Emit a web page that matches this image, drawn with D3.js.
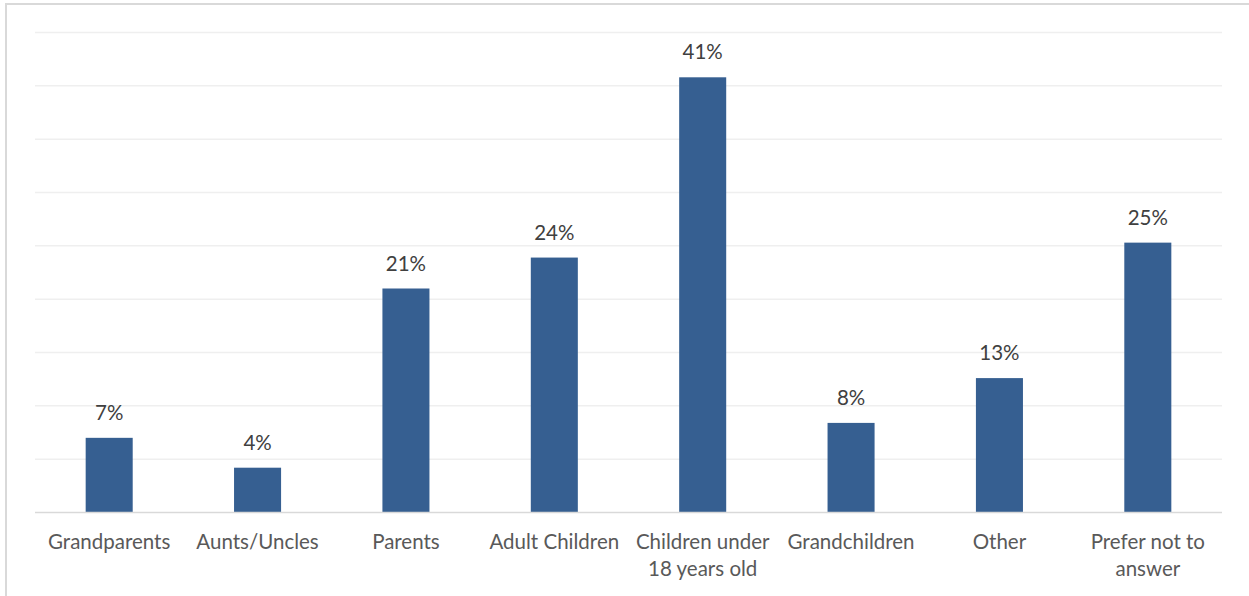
<!DOCTYPE html>
<html>
<head>
<meta charset="utf-8">
<script src="https://cdn.jsdelivr.net/npm/d3@7"></script>
<style>
  html, body { margin: 0; padding: 0; background: #fff; }
  svg { display: block; }
</style>
</head>
<body>
<svg id="chart" width="1249" height="596"></svg>
<script>
const categories = ["Grandparents", "Aunts/Uncles", "Parents", "Adult Children", "Children under 18 years old", "Grandchildren", "Other", "Prefer not to answer"];
const categoryLines = [["Grandparents"], ["Aunts/Uncles"], ["Parents"], ["Adult Children"], ["Children under", "18 years old"], ["Grandchildren"], ["Other"], ["Prefer not to", "answer"]];
const values = [7.0, 4.2, 21.0, 23.9, 40.8, 8.4, 12.6, 25.3];
const dataLabels = ["7%", "4%", "21%", "24%", "41%", "8%", "13%", "25%"];
const yTicks = [0, 5, 10, 15, 20, 25, 30, 35, 40, 45];

const svg = d3.select("#chart");
const font = "Lato, 'Open Sans', sans-serif";

// outer border
svg.append("rect").attr("x", 6).attr("y", 4).attr("width", 1400).attr("height", 800)
  .attr("fill", "none").attr("stroke", "#d9d9d9").attr("stroke-width", 2);

const x = d3.scaleBand().domain(categories).range([35, 1222]).paddingInner(0.683).paddingOuter(0.3415);
const y = d3.scaleLinear().domain([0, 45]).range([512.5, 32.5]);

// gridlines
svg.append("g").selectAll("line").data(yTicks.filter(d => d > 0)).join("line")
  .attr("x1", 35).attr("x2", 1222)
  .attr("y1", d => y(d)).attr("y2", d => y(d))
  .attr("stroke", "#efefef").attr("stroke-width", 1.5);

// bars
svg.append("g").selectAll("rect").data(values).join("rect")
  .attr("x", (d, i) => x(categories[i]))
  .attr("width", x.bandwidth())
  .attr("y", d => y(d))
  .attr("height", d => y(0) - y(d))
  .attr("fill", "#365f91");

// baseline
svg.append("line").attr("x1", 35).attr("x2", 1222).attr("y1", y(0)).attr("y2", y(0))
  .attr("stroke", "#d9d9d9").attr("stroke-width", 1.5);

// data labels
svg.append("g").selectAll("text").data(values).join("text")
  .attr("x", (d, i) => x(categories[i]) + x.bandwidth() / 2)
  .attr("y", d => y(d) - 18)
  .attr("text-anchor", "middle")
  .attr("font-family", font).attr("font-size", 20.5).attr("fill", "#404040")
  .text((d, i) => dataLabels[i]);

// category labels
const cl = svg.append("g").selectAll("text").data(categories).join("text")
  .attr("x", d => x(d) + x.bandwidth() / 2)
  .attr("y", 549)
  .attr("text-anchor", "middle")
  .attr("font-family", font).attr("font-size", 20.5).attr("fill", "#595959");
cl.each(function(d, i) {
  const t = d3.select(this);
  categoryLines[i].forEach((line, j) => {
    t.append("tspan").attr("x", x(d) + x.bandwidth() / 2).attr("dy", j === 0 ? 0 : 27).text(line);
  });
});
</script>
</body>
</html>
